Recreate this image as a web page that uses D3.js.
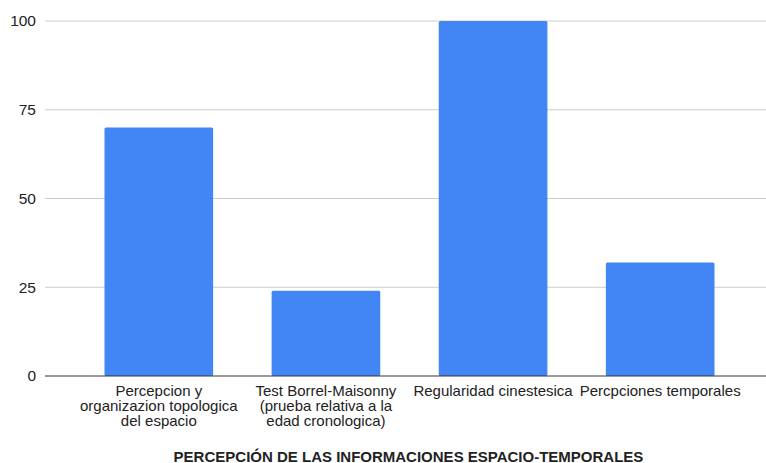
<!DOCTYPE html>
<html>
<head>
<meta charset="utf-8">
<script src="https://cdn.jsdelivr.net/npm/d3@7"></script>
<style>
  html, body { margin: 0; padding: 0; background: #fff; }
  svg { display: block; font-family: Arial, "Liberation Sans", sans-serif; }
</style>
</head>
<body>
<svg id="chart" width="766" height="463"></svg>
<script>
// Categories (each split into its display lines) and values
const categories = [
  "Percepcion y organizazion topologica del espacio",
  "Test Borrel-Maisonny (prueba relativa a la edad cronologica)",
  "Regularidad cinestesica",
  "Percpciones temporales"
];
const categoryLines = [
  ["Percepcion y", "organizazion topologica", "del espacio"],
  ["Test Borrel-Maisonny", "(prueba relativa a la", "edad cronologica)"],
  ["Regularidad cinestesica"],
  ["Percpciones temporales"]
];
const values = [70, 24, 100, 32];
const yTicks = [0, 25, 50, 75, 100];
const axisTitle = "PERCEPCIÓN DE LAS INFORMACIONES ESPACIO-TEMPORALES";

const svg = d3.select("#chart");
const plotLeft = 45, plotRight = 766, plotTop = 21, plotBottom = 376;

const x = d3.scaleBand()
  .domain(categories)
  .range([plotLeft + 1, 773])
  .paddingInner(0.35)
  .paddingOuter(0.35);

const y = d3.scaleLinear().domain([0, 100]).range([plotBottom, plotTop]);

// Horizontal gridlines
svg.append("g")
  .selectAll("line")
  .data(yTicks.filter(t => t !== 0))
  .join("line")
  .attr("x1", plotLeft).attr("x2", plotRight)
  .attr("y1", d => y(d)).attr("y2", d => y(d))
  .attr("stroke", "#cccccc").attr("stroke-width", 1);

// Y-axis labels
const yAxis = d3.axisLeft(y).tickValues(yTicks).tickSize(0).tickPadding(9).tickFormat(d3.format("d"));
const yg = svg.append("g").attr("transform", `translate(${plotLeft},0)`).call(yAxis);
yg.select(".domain").remove();
yg.selectAll("text").attr("fill", "#222").style("font-size", "15.5px")
  .style("font-family", "Arial, 'Liberation Sans', sans-serif");

// Bars
svg.append("g")
  .selectAll("rect")
  .data(values)
  .join("rect")
  .attr("x", (d, i) => x(categories[i]))
  .attr("y", d => y(d))
  .attr("width", x.bandwidth())
  .attr("height", d => y(0) - y(d))
  .attr("rx", 1.5)
  .attr("fill", "#4285f4");

// Baseline
svg.append("line")
  .attr("x1", plotLeft).attr("x2", plotRight)
  .attr("y1", y(0)).attr("y2", y(0))
  .attr("stroke", "#333").attr("stroke-width", 1);

// Category labels
const cl = svg.append("g").attr("fill", "#222").style("font-size", "15px");
categoryLines.forEach((lines, i) => {
  const cx = x(categories[i]) + x.bandwidth() / 2;
  const t = cl.append("text").attr("text-anchor", "middle");
  lines.forEach((ln, j) => {
    t.append("tspan").attr("x", cx).attr("y", 396 + j * 15).text(ln);
  });
});

// Axis title
svg.append("text")
  .attr("x", (plotLeft + plotRight) / 2 + 3)
  .attr("y", 462)
  .attr("text-anchor", "middle")
  .attr("fill", "#222")
  .style("font-size", "15px")
  .style("font-weight", "bold")
  .text(axisTitle);
</script>
</body>
</html>
